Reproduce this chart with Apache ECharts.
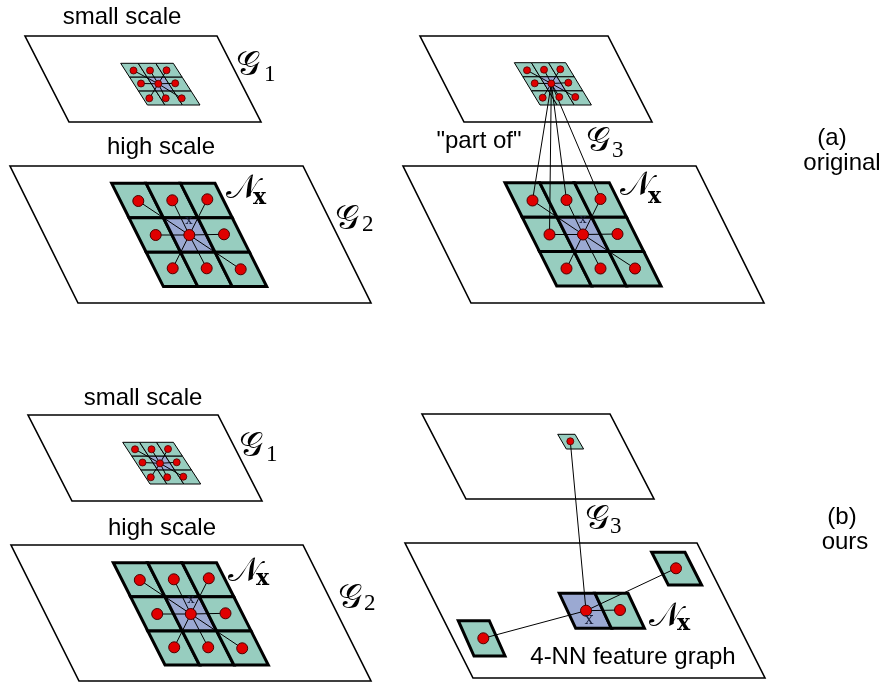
<!DOCTYPE html>
<html><head><meta charset="utf-8">
<script src="https://cdn.jsdelivr.net/npm/echarts@6/dist/echarts.min.js"></script>
<style>html,body{margin:0;padding:0;background:#fff}#c{width:886px;height:682px}</style>
</head><body><div id="c"></div>
<script>
// ---- diagram data (axis units = picture pixels, y downward) ----
// planes: [xTopLeft, yTop, width, height, bottomShift]
const planeQuads = [
  [25, 36, 192, 86, 44],
  [10, 166, 293, 137, 68],
  [420, 36, 188, 86, 44],
  [403, 166, 293, 137, 68],
  [28, 415, 190, 86, 44],
  [11, 545, 292, 136, 68],
  [422, 414, 188, 85, 44],
  [405, 543, 292, 135, 68]
];
// 3x3 neighbourhood grids: [x, y, width, height, bottomShift]
const smallGrids = [
  [120.7, 63.3, 52.6, 41.7, 26.7],
  [514.3, 62.7, 51.4, 42.3, 25.7],
  [122.7, 442.3, 50.7, 41.7, 27.3]
];
const bigGrids = [
  [111.7, 183.3, 103.3, 103.3, 51.7],
  [505, 182.7, 104.3, 103.3, 51.7],
  [113.3, 562.7, 103.3, 102.3, 51.7]
];
// loose cells of the 4-NN graph: [x, y, w, h, shift, fillIdx, lineWidth]
const looseCells = [
  [559.3, 593.3, 35.7, 35, 16.4, 1, 3],
  [595, 593.3, 33, 35, 16.4, 0, 3],
  [651.7, 552.3, 33.3, 32.7, 16.6, 0, 3],
  [458.3, 620.7, 31, 35.3, 15.7, 0, 3],
  [557.7, 434.3, 17.3, 14.7, 8.6, 0, 1]
];
// nodes (cell centres), centre node = index 4
const nodesA1 = [[133.5,70.5],[150,70.5],[166.5,70.3],[141,83.5],[158.3,83.8],[175.2,83.3],[149.3,98.3],[165.7,98.3],[181.7,98.3]];
const nodesA3 = [[527,70.3],[544,69.7],[560.3,69.3],[534.7,83.3],[551.3,83.5],[568.3,82.7],[542.7,97.7],[559.3,97],[575.3,97]];
const nodesB1 = [[135,449.3],[151.5,449.3],[168,449],[142.5,462.5],[160,463.3],[176.7,462.3],[150.8,477.3],[167.2,477.3],[183.3,476.7]];
const nodesA2 = [[138.3,201],[172.3,200.3],[207.3,199.3],[155.7,235],[189.3,235],[224,234.3],[172.7,268.3],[206.7,268.3],[240.7,269.3]];
const nodesA4 = [[532.5,200.5],[566.5,200],[600.5,199],[549.5,234.5],[583,234.5],[617.5,234],[566.5,268.5],[600.5,268.5],[635,268.5]];
const nodesB2 = [[139.8,580],[173.8,579.3],[208.8,578.3],[157.2,614],[190.8,614],[225.5,613.3],[174.2,647.3],[208.2,647.3],[242.2,648.3]];
const nodesKNN = [[586,610.7],[620,610],[676,568.3],[483.3,638.3]];
const nodeG3b = [570.3, 441.3];
// "part of" links: from G3 centre node to these nodes of the big grid
const partOfTargets = [0, 3, 1, 2];

const fills = ['#97cdbf', '#9ba9d2'];

// ---- build series data ----
const planeData = planeQuads.map(q => q.concat([2, 1.6]));
const cellData = [];
function addGrid(g, lw) {
  const [x, y, w, h, d] = g;
  for (let r = 0; r < 3; r++) for (let c = 0; c < 3; c++) {
    cellData.push([x + c * w / 3 + r * d / 3, y + r * h / 3, w / 3, h / 3, d / 3, (r === 1 && c === 1) ? 1 : 0, lw]);
  }
}
smallGrids.forEach(g => addGrid(g, 1));
bigGrids.forEach(g => addGrid(g, 3));
looseCells.forEach(c => cellData.push(c.slice()));

const edges = [];
function star(nodes) { nodes.forEach((n, i) => { if (i !== 4) edges.push([nodes[4][0], nodes[4][1], n[0], n[1]]); }); }
[nodesA1, nodesA3, nodesB1, nodesA2, nodesA4, nodesB2].forEach(star);
partOfTargets.forEach(i => edges.push([nodesA3[4][0], nodesA3[4][1], nodesA4[i][0], nodesA4[i][1]]));
edges.push([nodeG3b[0], nodeG3b[1], nodesKNN[0][0], nodesKNN[0][1]]);
[1, 2, 3].forEach(i => edges.push([nodesKNN[0][0], nodesKNN[0][1], nodesKNN[i][0], nodesKNN[i][1]]));

const smallPts = nodesA1.concat(nodesA3, nodesB1, [nodeG3b]);
const bigPts = nodesA2.concat(nodesA4, nodesB2, nodesKNN);

function quadItem(params, api) {
  const x = api.value(0), y = api.value(1), w = api.value(2), h = api.value(3), d = api.value(4);
  const fi = api.value(5);
  const pts = [api.coord([x, y]), api.coord([x + w, y]), api.coord([x + w + d, y + h]), api.coord([x + d, y + h])];
  return { type: 'polygon', shape: { points: pts },
    style: { fill: fi === 2 ? '#ffffff' : fills[fi], stroke: '#000', lineWidth: api.value(6), lineJoin: 'miter' } };
}
function edgeItem(params, api) {
  const a = api.coord([api.value(0), api.value(1)]), b = api.coord([api.value(2), api.value(3)]);
  return { type: 'line', shape: { x1: a[0], y1: a[1], x2: b[0], y2: b[1] }, style: { stroke: '#000', lineWidth: 1 } };
}

// ---- labels ----
const sans = '"Liberation Sans", Arial, sans-serif';
const serif = '"DejaVu Serif", serif';
function txt(t, x, y, font, align, color) {
  return { type: 'text', x: x, y: y, silent: true, z: 100,
    style: { text: t, font: font, fill: color || '#000', textAlign: align || 'center', textVerticalAlign: 'middle', align: align || 'center', verticalAlign: 'middle' } };
}
const calFont = '34px ' + serif;
const subFont = '23px "Liberation Serif", serif';
const bxFont = 'bold 22px ' + serif;
const lab = '24px ' + sans;
const graphics = [
  txt('small scale', 122, 17, lab),
  txt('high scale', 161, 147, lab),
  txt('small scale', 143, 398, lab),
  txt('high scale', 162, 528, lab),
  txt('"part of"', 479, 141, lab),
  txt('(a)', 832, 138, lab),
  txt('original', 842, 163, lab),
  txt('(b)', 842, 517, lab),
  txt('ours', 845, 542, lab),
  txt('4-NN feature graph', 633, 657, lab),
  // G labels
  txt('\u{1D4A2}', 236, 66, calFont, 'left'), txt('1', 264, 75, subFont, 'left'),
  txt('\u{1D4A2}', 335, 220, calFont, 'left'), txt('2', 362, 225, subFont, 'left'),
  txt('\u{1D4A2}', 586, 142, calFont, 'left'), txt('3', 612, 151, subFont, 'left'),
  txt('\u{1D4A2}', 239, 447, calFont, 'left'), txt('1', 266, 455, subFont, 'left'),
  txt('\u{1D4A2}', 338, 599, calFont, 'left'), txt('2', 364, 604, subFont, 'left'),
  txt('\u{1D4A2}', 585, 520, calFont, 'left'), txt('3', 610, 527, subFont, 'left'),
  // N_x labels
  txt('\u{1D4A9}', 226, 189, calFont, 'left'), txt('x', 253, 198, bxFont, 'left'),
  txt('\u{1D4A9}', 620, 186, calFont, 'left'), txt('x', 648, 197, bxFont, 'left'),
  txt('\u{1D4A9}', 228, 572, calFont, 'left'), txt('x', 256, 579, bxFont, 'left'),
  txt('\u{1D4A9}', 649, 617, calFont, 'left'), txt('x', 677, 624, bxFont, 'left'),
  // centre x labels
  txt('x', 189, 221, '13px ' + serif, 'center', '#1a1f3a'),
  txt('x', 583, 220, '13px ' + serif, 'center', '#1a1f3a'),
  txt('x', 191, 600, '13px ' + serif, 'center', '#1a1f3a'),
  txt('x', 589, 620, '16px ' + serif, 'center', '#1a1f3a')
];

const chart = echarts.init(document.getElementById('c'), null, { renderer: 'canvas' });
chart.setOption({
  animation: false,
  backgroundColor: '#ffffff',
  grid: { left: 0, right: 0, top: 0, bottom: 0 },
  xAxis: { type: 'value', min: 0, max: 886, show: false },
  yAxis: { type: 'value', min: 0, max: 682, inverse: true, show: false },
  series: [
    { type: 'custom', renderItem: quadItem, data: planeData, z: 1, silent: true, clip: false },
    { type: 'custom', renderItem: quadItem, data: cellData, z: 2, silent: true, clip: false },
    { type: 'custom', renderItem: edgeItem, data: edges, z: 3, silent: true, clip: false },
    { type: 'scatter', data: smallPts, symbolSize: 7, z: 4, silent: true,
      itemStyle: { color: '#e00000', borderColor: '#4a0000', borderWidth: 0.8, opacity: 1 } },
    { type: 'scatter', data: bigPts, symbolSize: 11, z: 4, silent: true,
      itemStyle: { color: '#e00000', borderColor: '#4a0000', borderWidth: 1, opacity: 1 } }
  ],
  graphic: graphics
});
</script></body></html>
